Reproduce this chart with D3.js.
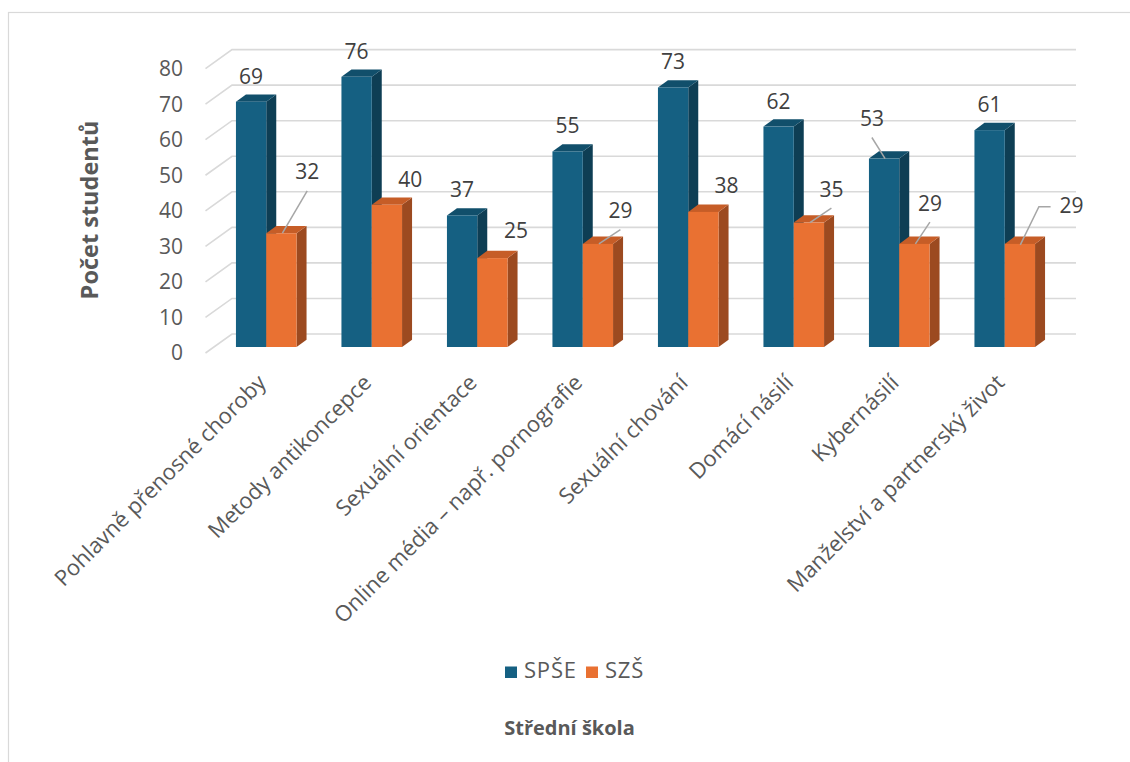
<!DOCTYPE html>
<html>
<head>
<meta charset="utf-8">
<script src="https://cdn.jsdelivr.net/npm/d3@7"></script>
<style>
  html, body { margin: 0; padding: 0; background: #ffffff; }
  svg { display: block; font-family: "Open Sans", "Liberation Sans", sans-serif; }
</style>
</head>
<body>
<svg id="chart" width="1130" height="762"></svg>
<script>
// ---------- data ----------
const categories = [
  "Pohlavně přenosné choroby",
  "Metody antikoncepce",
  "Sexuální orientace",
  "Online média – např. pornografie",
  "Sexuální chování",
  "Domácí násilí",
  "Kybernásilí",
  "Manželství a partnerský život"
];
const seriesNames = ["SPŠE", "SZŠ"];
const spseValues = [69, 76, 37, 55, 73, 62, 53, 61];
const szsValues = [32, 40, 25, 29, 38, 35, 29, 29];
const yTickValues = [0, 10, 20, 30, 40, 50, 60, 70, 80];
const yAxisTitle = "Počet studentů";
const xAxisTitle = "Střední škola";

// ---------- layout / style ----------
const W = 1130, H = 762;
const plane = { left: 213.5, right: 1057.5, bottom: 347, top: 62.6 };
const back = { dx: 18.5, dy: -13 };     // back wall offset from bar plane
const front = { dx: -8, dy: 6 };        // front floor edge offset
const depth = { dx: 10, dy: -7.3 };     // bar depth
const colors = {
  "SPŠE": { front: "#156082", side: "#0e3e54", top: "#114f6b" },
  "SZŠ":  { front: "#e97132", side: "#9c4a20", top: "#c65d27" }
};
const gridColor = "#d9d9d9";
const textColor = "#595959";
const labelColor = "#404040";
const numSize = 21;
const catSize = 22;

// manual data-label placements (relative to bar top centre), as in the original
const labelPlacement = {
  "SPŠE": [
    {dx: 0, dy: -18}, {dx: 0, dy: -18}, {dx: 0, dy: -18}, {dx: 0, dy: -18},
    {dx: 0, dy: -18}, {dx: 0, dy: -18}, {dx: -12.2, dy: -32.6, leader: "line"}, {dx: 0, dy: -18}
  ],
  "SZŠ": [
    {dx: 25.8, dy: -53.9, leader: "line"}, {dx: 23.4, dy: -18.1}, {dx: 23.6, dy: -19.8},
    {dx: 22.5, dy: -25.8, leader: "line"}, {dx: 23.2, dy: -19.2}, {dx: 22.5, dy: -25.9, leader: "line"},
    {dx: 15.5, dy: -33.2, leader: "line"}, {dx: 51.7, dy: -30.6, leader: "elbow"}
  ]
};

const series = [
  { name: seriesNames[0], values: spseValues },
  { name: seriesNames[1], values: szsValues }
];

const svg = d3.select("#chart");
svg.append("rect").attr("width", W).attr("height", H).attr("fill", "#fff");
// chart area border
svg.append("rect")
  .attr("x", 8.5).attr("y", 12.5).attr("width", W + 20).attr("height", H + 20)
  .attr("fill", "none").attr("stroke", "#d9d9d9").attr("stroke-width", 1.2);

const y = d3.scaleLinear().domain([0, 80]).range([plane.bottom, plane.top]);
const x0 = d3.scaleBand().domain(categories).range([plane.left, plane.right])
  .paddingInner(0.4256).paddingOuter(0.2128);
const x1 = d3.scaleBand().domain(seriesNames).range([0, x0.bandwidth()]).padding(0);

// ---------- gridlines (side wall + back wall) ----------
const grid = svg.append("g");
yTickValues.forEach(v => {
  const yy = y(v);
  const pts = [
    [plane.left + front.dx, yy + front.dy],
    [plane.left + back.dx, yy + back.dy],
    [plane.right + back.dx, yy + back.dy]
  ];
  grid.append("polyline")
    .attr("points", pts.map(p => p.join(",")).join(" "))
    .attr("fill", "none").attr("stroke", gridColor).attr("stroke-width", 1.6);
  grid.append("text")
    .attr("x", 183).attr("y", yy + front.dy)
    .attr("dy", "0.35em")
    .attr("text-anchor", "end")
    .attr("fill", textColor).attr("font-size", numSize)
    .text(v);
});

// ---------- bars ----------
const bars = svg.append("g");
categories.forEach((c, i) => {
  series.forEach(s => {
    const v = s.values[i];
    const xa = x0(c) + x1(s.name);
    const xb = xa + x1.bandwidth();
    const yt = y(v), yb = y(0);
    const col = colors[s.name];
    const g = bars.append("g");
    g.append("polygon")
      .attr("points", [[xb, yb], [xb, yt], [xb + depth.dx, yt + depth.dy], [xb + depth.dx, yb + depth.dy]].map(p => p.join(",")).join(" "))
      .attr("fill", col.side);
    g.append("polygon")
      .attr("points", [[xa, yt], [xb, yt], [xb + depth.dx, yt + depth.dy], [xa + depth.dx, yt + depth.dy]].map(p => p.join(",")).join(" "))
      .attr("fill", col.top);
    g.append("rect")
      .attr("x", xa).attr("y", yt).attr("width", xb - xa).attr("height", yb - yt)
      .attr("fill", col.front);
  });
});

// ---------- data labels ----------
const labels = svg.append("g");
categories.forEach((c, i) => {
  series.forEach(s => {
    const v = s.values[i];
    const cx = x0(c) + x1(s.name) + x1.bandwidth() / 2;
    const ty = y(v);
    const p = labelPlacement[s.name][i];
    const lx = cx + p.dx, ly = ty + p.dy;
    if (p.leader === "line") {
      labels.append("line")
        .attr("x1", lx).attr("y1", ly + 11.5).attr("x2", cx + 1).attr("y2", ty)
        .attr("stroke", "#a6a6a6").attr("stroke-width", 1.5);
    } else if (p.leader === "elbow") {
      labels.append("polyline")
        .attr("points", [[lx - 21, ly - 6.6], [lx - 32.7, ly - 6.6], [cx + 0.4, ty + 1]].map(q => q.join(",")).join(" "))
        .attr("fill", "none").attr("stroke", "#a6a6a6").attr("stroke-width", 1.5);
    }
    labels.append("text")
      .attr("x", lx).attr("y", ly)
      .attr("text-anchor", "middle")
      .attr("fill", labelColor).attr("font-size", numSize)
      .text(v);
  });
});

// ---------- category labels ----------
const cat = svg.append("g");
categories.forEach(c => {
  const cx = x0(c) + x0.bandwidth() / 2 + 1;
  cat.append("text")
    .attr("transform", `translate(${cx},384) rotate(-45)`)
    .attr("text-anchor", "end")
    .attr("fill", textColor).attr("font-size", catSize)
    .text(c);
});

// ---------- axis titles ----------
svg.append("text")
  .attr("transform", "translate(98,210) rotate(-90)")
  .attr("text-anchor", "middle")
  .attr("fill", textColor).attr("font-size", 23.5).attr("font-weight", "bold")
  .text(yAxisTitle);

svg.append("text")
  .attr("x", 569.5).attr("y", 735)
  .attr("text-anchor", "middle")
  .attr("fill", textColor).attr("font-size", 20).attr("font-weight", "bold")
  .text(xAxisTitle);

// ---------- legend ----------
const legend = svg.append("g");
const legendX = [505, 586];
series.forEach((s, k) => {
  legend.append("rect")
    .attr("x", legendX[k]).attr("y", 666.5).attr("width", 12).attr("height", 11.5)
    .attr("fill", colors[s.name].front);
  legend.append("text")
    .attr("x", legendX[k] + 19).attr("y", 678)
    .attr("fill", textColor).attr("font-size", catSize)
    .attr("letter-spacing", 0.8)
    .text(s.name);
});
</script>
</body>
</html>
